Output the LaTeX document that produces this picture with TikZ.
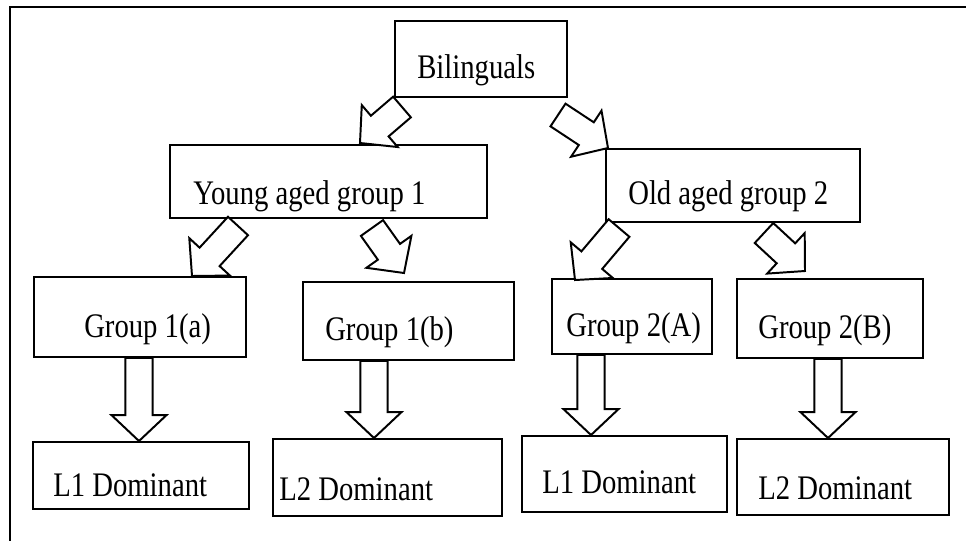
\documentclass[tikz,border=0pt]{standalone}
\usepackage{fontspec}
\setmainfont{Liberation Serif}
\usepackage{graphicx}
\usetikzlibrary{calc,fit}

\tikzset{
	box/.style={draw, line width=1.4pt, inner sep=0pt},
	lbl/.style={inner sep=0pt, anchor=base west, font=\fontsize{20.4}{24}\selectfont},
	blk/.style={draw, line width=1.4pt, line join=miter, fill=white},
}
\newcommand{\tall}[1]{\scalebox{1}[1.2]{#1}}
% hollow block arrow from #1 to #2
\newcommand{\blockarrow}[2]{%
	\coordinate (hb) at ($(#2)!0.65cm!(#1)$);
	\draw[blk] ($(#1)!0.34cm!90:(#2)$) -- ($(hb)!0.34cm!90:(#2)$) -- ($(hb)!0.69cm!90:(#2)$)
		-- (#2) -- ($(hb)!0.69cm!-90:(#2)$) -- ($(hb)!0.34cm!-90:(#2)$) -- ($(#1)!0.34cm!-90:(#2)$) -- cycle;
}

\begin{document}
\begin{tikzpicture}[x=0.025cm, y=-0.025cm]
	\useasboundingbox (0,0) rectangle (966,540);
	\clip (0,0) rectangle (966,540);
	\draw[line width=1.2pt] (10,560) -- (10,7) -- (990,7);

	% boxes
	\node[box, fit={(395,21) (567,97)}] (bil) {};
	\node[box, fit={(170,145) (487,218)}] (young) {};
	\node[box, fit={(606,149) (860,222)}] (old) {};
	\node[box, fit={(34,277) (246,357)}] (g1a) {};
	\node[box, fit={(303,282) (514,360)}] (g1b) {};
	\node[box, fit={(552,279) (712,354)}] (g2a) {};
	\node[box, fit={(737,279) (923,358)}] (g2b) {};
	\node[box, fit={(33,442) (249,509)}] (l1a) {};
	\node[box, fit={(273,439) (502,516)}] (l2a) {};
	\node[box, fit={(522,436) (727,512)}] (l1b) {};
	\node[box, fit={(737,439) (949,515)}] (l2b) {};

	% texts
	\node[lbl] (bil-t) at (417,78) {\tall{Bilinguals}};
	\node[lbl] (young-t) at (193,204) {\tall{Young aged group 1}};
	\node[lbl] (old-t) at (628,204) {\tall{Old aged group 2}};
	\node[lbl] (g1a-t) at (84,337) {\tall{Group 1(a)}};
	\node[lbl] (g1b-t) at (325,340) {\tall{Group 1(b)}};
	\node[lbl] (g2a-t) at (566,336) {\tall{Group 2(A)}};
	\node[lbl] (g2b-t) at (758,338) {\tall{Group 2(B)}};
	\node[lbl] (l1a-t) at (53,496) {\tall{L1 Dominant}};
	\node[lbl] (l2a-t) at (279,500) {\tall{L2 Dominant}};
	\node[lbl] (l1b-t) at (542,493) {\tall{L1 Dominant}};
	\node[lbl] (l2b-t) at (758,499) {\tall{L2 Dominant}};

	% arrow ends
	\coordinate (d1s) at (402,107); \coordinate (d1e) at (360,143);
	\coordinate (d2s) at (558,115); \coordinate (d2e) at (608,148);
	\coordinate (d3s) at (238,226); \coordinate (d3e) at (192,276);
	\coordinate (d4s) at (372,228); \coordinate (d4e) at (404,273);
	\coordinate (d5s) at (619,228); \coordinate (d5e) at (575,280);
	\coordinate (d6s) at (764,233); \coordinate (d6e) at (805,271);
	\coordinate (v1s) at (139,357 |- g1a.south); \coordinate (v1e) at (139,357 |- l1a.north);
	\coordinate (v2s) at (374,360 |- g1b.south); \coordinate (v2e) at (374,360 |- l2a.north);
	\coordinate (v3s) at (591,354 |- g2a.south); \coordinate (v3e) at (591,354 |- l1b.north);
	\coordinate (v4s) at (828,358 |- g2b.south); \coordinate (v4e) at (828,358 |- l2b.north);

	\blockarrow{d1s}{d1e}
	\blockarrow{d2s}{d2e}
	\blockarrow{d3s}{d3e}
	\blockarrow{d4s}{d4e}
	\blockarrow{d5s}{d5e}
	\blockarrow{d6s}{d6e}
	\blockarrow{v1s}{v1e}
	\blockarrow{v2s}{v2e}
	\blockarrow{v3s}{v3e}
	\blockarrow{v4s}{v4e}
\end{tikzpicture}
\end{document}
